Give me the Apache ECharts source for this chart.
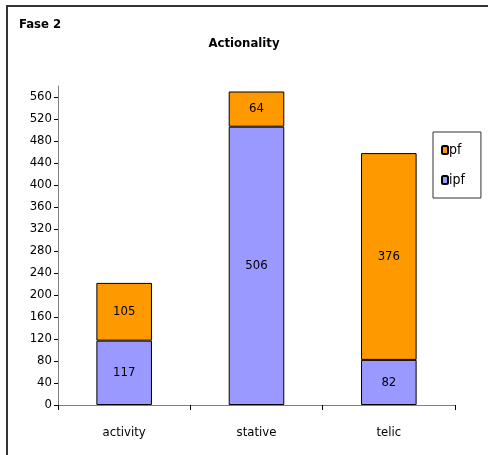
<!DOCTYPE html>
<html>
<head>
<meta charset="utf-8">
<script src="https://cdn.jsdelivr.net/npm/echarts@6/dist/echarts.min.js"></script>
<style>
  html, body { margin: 0; padding: 0; background: #fff; }
  #frame { position: absolute; left: 6px; top: 5px; width: 490px; height: 460px;
           border-left: 2px solid #333; border-top: 2px solid #333; box-sizing: border-box; }
  #chart { position: absolute; left: 0; top: 0; width: 488px; height: 455px; }
</style>
</head>
<body>
<div id="frame"></div>
<div id="chart"></div>
<script>
// Actionality counts per category, split by aspect
const categories = ['activity', 'stative', 'telic'];
const ipf = [117, 506, 82];
const pf = [105, 64, 376];
const yTicks = [0, 40, 80, 120, 160, 200, 240, 280, 320, 360, 400, 440, 480, 520, 560];

const FONT = '"DejaVu Sans Condensed", "DejaVu Sans", sans-serif';

const chart = echarts.init(document.getElementById('chart'));
chart.setOption({
  animation: false,
  textStyle: { fontFamily: FONT },
  title: [
    { text: 'Fase 2', left: 14, top: 13,
      textStyle: { fontSize: 13, fontWeight: 'bold', color: '#000', fontFamily: FONT } },
    { text: 'Actionality', left: 'center', top: 32,
      textStyle: { fontSize: 13, fontWeight: 'bold', color: '#000', fontFamily: FONT } }
  ],
  legend: {
    left: 433, top: 132, orient: 'vertical',
    padding: [11, 16, 11, 8],
    itemGap: 16,
    itemWidth: 6, itemHeight: 8,
    borderColor: '#333', borderWidth: 1,
    data: ['pf', 'ipf'],
    textStyle: { fontSize: 14, color: '#000', fontFamily: FONT, padding: [0, 0, 0, -4] }
  },
  grid: { left: 58, right: 33, top: 86, bottom: 50 },
  xAxis: {
    type: 'category',
    data: categories,
    axisLine: { lineStyle: { color: '#808080', width: 1 } },
    axisTick: { show: true, length: 5, lineStyle: { color: '#000' } },
    axisLabel: { color: '#000', fontSize: 13, margin: 21, fontFamily: FONT }
  },
  yAxis: {
    type: 'value',
    min: 0, max: 580, interval: 40,
    splitLine: { show: false },
    axisLine: { show: true, lineStyle: { color: '#808080', width: 1 } },
    axisTick: { show: true, length: 4, customValues: yTicks, lineStyle: { color: '#000' } },
    axisLabel: { color: '#000', fontSize: 13, margin: 6, customValues: yTicks, fontFamily: FONT }
  },
  series: [
    {
      name: 'ipf', type: 'bar', stack: 'a', data: ipf, barWidth: '42%',
      itemStyle: { color: '#9999FF', borderColor: '#000', borderWidth: 1 },
      label: { show: true, position: 'inside', color: '#000', fontSize: 13, fontFamily: FONT }
    },
    {
      name: 'pf', type: 'bar', stack: 'a', data: pf, barWidth: '42%',
      itemStyle: { color: '#FF9900', borderColor: '#000', borderWidth: 1 },
      label: { show: true, position: 'inside', color: '#000', fontSize: 13, fontFamily: FONT }
    }
  ]
});
</script>
</body>
</html>
